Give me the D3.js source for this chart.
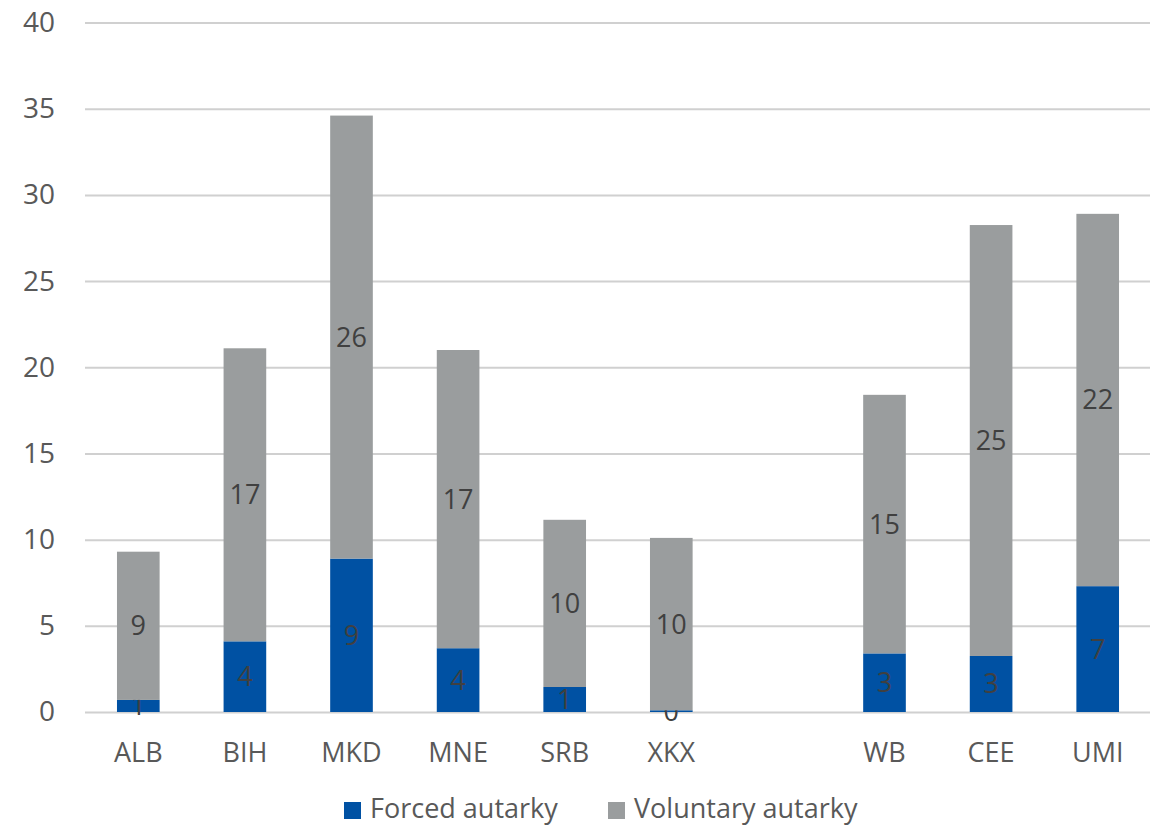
<!DOCTYPE html>
<html>
<head>
<meta charset="utf-8">
<script src="https://cdn.jsdelivr.net/npm/d3@7/dist/d3.min.js"></script>
<style>
  html, body { margin: 0; padding: 0; background: #ffffff; }
  svg { display: block; font-family: "Open Sans", "Noto Sans", sans-serif; }
</style>
</head>
<body>
<svg id="chart" width="1150" height="826"></svg>
<script>
// Categories (the blank entry leaves a gap between countries and aggregates)
const categories = ["ALB", "BIH", "MKD", "MNE", "SRB", "XKX", "", "WB", "CEE", "UMI"];
const forced     = [0.7, 4.1, 8.9, 3.7, 1.45, 0.1, null, 3.4, 3.25, 7.3];
const voluntary  = [8.6, 17.0, 25.7, 17.3, 9.7, 10.0, null, 15.0, 25.0, 21.6];
const yTicks     = [0, 5, 10, 15, 20, 25, 30, 35, 40];
const seriesNames = ["Forced autarky", "Voluntary autarky"];
const seriesColors = ["#0051a3", "#9a9d9e"];

const svg = d3.select("#chart");
const margin = { left: 85, right: 0, top: 22.5, bottom: 114 };
const width = 1151;
const height = 826;

const x = d3.scaleBand()
  .domain(categories)
  .range([margin.left, width - margin.right])
  .paddingInner(0.6)
  .paddingOuter(0.3);

const y = d3.scaleLinear()
  .domain([0, 40])
  .range([height - margin.bottom, margin.top]);

// Horizontal gridlines with tick labels
const yAxis = d3.axisLeft(y)
  .tickValues(yTicks)
  .tickSize(-(width - margin.left - margin.right))
  .tickPadding(30);

const gy = svg.append("g")
  .attr("transform", `translate(${margin.left},0)`)
  .call(yAxis);
gy.select(".domain").remove();
gy.selectAll(".tick line").attr("stroke", "#d0d0d0").attr("stroke-width", 2);
gy.selectAll(".tick text")
  .attr("fill", "#595959")
  .attr("font-size", 28)
  .attr("font-family", "'Open Sans', sans-serif");

// Stacked data
const rows = categories.map((c, i) => ({ cat: c, forced: forced[i], voluntary: voluntary[i] }))
  .filter(d => d.forced !== null);
const stack = d3.stack().keys(["forced", "voluntary"]);
const layers = stack(rows);

const fmt = d3.format(".0f");

layers.forEach((layer, li) => {
  const g = svg.append("g");
  g.selectAll("rect")
    .data(layer)
    .join("rect")
    .attr("x", d => x(d.data.cat))
    .attr("width", x.bandwidth())
    .attr("y", d => y(d[1]))
    .attr("height", d => y(d[0]) - y(d[1]))
    .attr("fill", seriesColors[li]);

  g.selectAll("text")
    .data(layer)
    .join("text")
    .attr("x", d => x(d.data.cat) + x.bandwidth() / 2)
    .attr("y", d => y((d[0] + d[1]) / 2))
    .attr("dy", "0.35em")
    .attr("text-anchor", "middle")
    .attr("fill", "#404040")
    .attr("font-size", 27)
    .text(d => fmt(d[1] - d[0]));
});

// Category labels
const xAxis = d3.axisBottom(x).tickSize(0).tickPadding(31);
const gx = svg.append("g")
  .attr("transform", `translate(0,${height - margin.bottom})`)
  .call(xAxis);
gx.select(".domain").remove();
gx.selectAll(".tick text")
  .attr("fill", "#595959")
  .attr("font-size", 27)
  .attr("font-family", "'Open Sans', sans-serif");

// Legend
const legendItems = [
  { name: seriesNames[0], color: seriesColors[0], x: 344 },
  { name: seriesNames[1], color: seriesColors[1], x: 608 }
];
const legend = svg.append("g");
legendItems.forEach(item => {
  legend.append("rect")
    .attr("x", item.x)
    .attr("y", 802)
    .attr("width", 17)
    .attr("height", 17)
    .attr("fill", item.color);
  legend.append("text")
    .attr("x", item.x + 26)
    .attr("y", 809)
    .attr("dy", "0.35em")
    .attr("fill", "#595959")
    .attr("font-size", 27)
    .text(item.name);
});
</script>
</body>
</html>
